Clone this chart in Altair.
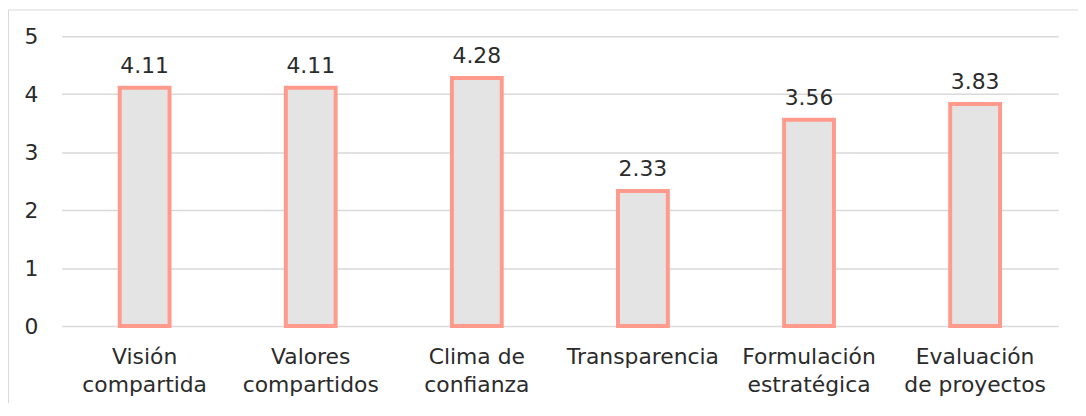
import altair as alt
import pandas as pd

categories = ["Visión\ncompartida", "Valores\ncompartidos", "Clima de\nconfianza",
              "Transparencia", "Formulación\nestratégica", "Evaluación\nde proyectos"]
values = [4.11, 4.11, 4.28, 2.33, 3.56, 3.83]
y_ticks = [0, 1, 2, 3, 4, 5]

df = pd.DataFrame({"cat": categories, "val": values})
FONT = "DejaVu Sans"
TXT = "#2b2b2b"

x_enc = alt.X("cat:N", sort=categories,
              scale=alt.Scale(paddingInner=0.7, paddingOuter=0.35),
              axis=alt.Axis(title=None, labelAngle=0, domain=False, ticks=False,
                            labelExpr="split(datum.label, '\\n')",
                            labelFont=FONT, labelFontSize=22, labelColor=TXT,
                            labelLineHeight=28, labelPadding=21, labelOverlap=False,
                            labelLimit=400))
y_enc = alt.Y("val:Q", scale=alt.Scale(domain=[0, 5], nice=False),
              axis=alt.Axis(title=None, values=y_ticks, domain=False, ticks=False,
                            grid=True, gridColor="#d9d9d9", gridWidth=1.5,
                            labelFont=FONT, labelFontSize=22, labelColor=TXT,
                            labelPadding=24, format="d"))

base = alt.Chart(df)

bars = base.mark_bar(fill="#e4e4e4", stroke="#ff9a8c", strokeWidth=4).encode(x=x_enc, y=y_enc)
labels = base.mark_text(font=FONT, fontSize=22, color=TXT, baseline="alphabetic", dy=-15).encode(
    x=alt.X("cat:N", sort=categories), y="val:Q", text=alt.Text("val:Q", format=".2f"))

frame = alt.Chart(pd.DataFrame({"a": [0]})).mark_rect(fill="transparent", stroke="#d9d9d9", strokeWidth=1).encode(
    x=alt.value(-53.5), x2=alt.value(1200), y=alt.value(-26.5), y2=alt.value(600))

chart = alt.layer(frame, bars, labels).properties(
    width=1004, height=292,
    autosize=alt.AutoSizeParams(type="none"),
    padding={"left": 54, "top": 27, "right": 20, "bottom": 76},
).configure_view(stroke=None)

chart.save("out.html", embed_options={"renderer": "svg", "actions": False})
